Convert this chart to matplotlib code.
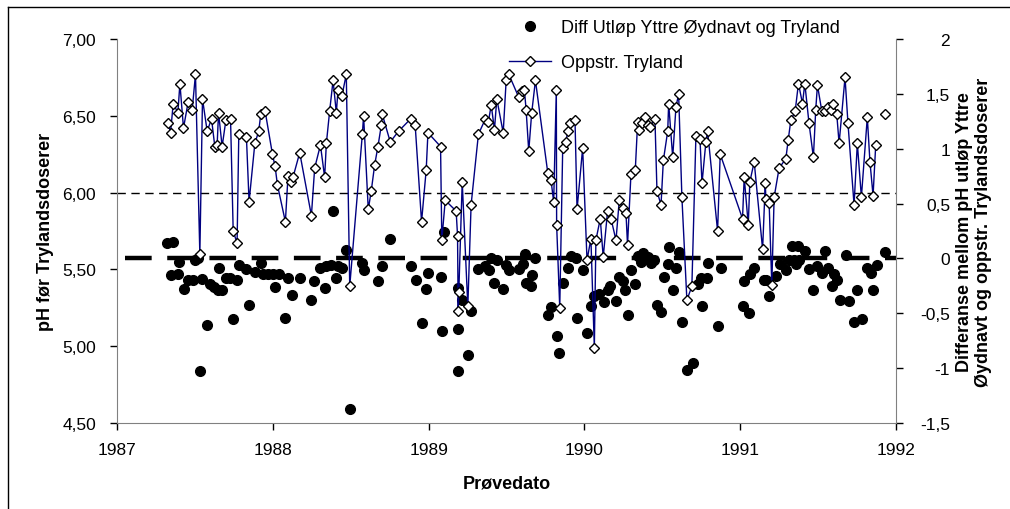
import matplotlib
matplotlib.use("Agg")
import matplotlib.pyplot as plt
from matplotlib.lines import Line2D
from matplotlib.ticker import FuncFormatter, MultipleLocator
import numpy as np

plt.rcParams["font.family"] = ["Liberation Sans", "DejaVu Sans"]

# Oppstr. Tryland (pH, left axis)
tryland_dato = [
    1987.329, 1987.344, 1987.361, 1987.391, 1987.404, 1987.427, 1987.457, 1987.483,
    1987.504, 1987.532, 1987.549, 1987.579, 1987.607, 1987.628, 1987.643, 1987.652,
    1987.675, 1987.699, 1987.729, 1987.746, 1987.771, 1987.782, 1987.831, 1987.848,
    1987.885, 1987.910, 1987.923, 1987.951, 1987.998, 1988.015, 1988.030,
    1988.081, 1988.098, 1988.120, 1988.130, 1988.173, 1988.248, 1988.269, 1988.306,
    1988.333, 1988.344, 1988.365, 1988.387, 1988.408, 1988.419, 1988.444, 1988.472,
    1988.494, 1988.575, 1988.583, 1988.613, 1988.632, 1988.654, 1988.675, 1988.697,
    1988.703, 1988.754, 1988.808,
    1988.885, 1988.914, 1988.955, 1988.985, 1988.996, 1989.077, 1989.085, 1989.107,
    1989.177, 1989.186, 1989.190, 1989.194, 1989.216, 1989.252, 1989.273, 1989.320,
    1989.365, 1989.384, 1989.402, 1989.423, 1989.438, 1989.479, 1989.498, 1989.515,
    1989.579, 1989.600, 1989.615, 1989.626, 1989.643,
    1989.662, 1989.686, 1989.765, 1989.786, 1989.803, 1989.820, 1989.822, 1989.842,
    1989.861, 1989.882, 1989.893, 1989.910, 1989.940, 1989.953, 1989.989, 1990.017,
    1990.042, 1990.064, 1990.074, 1990.102, 1990.121, 1990.149, 1990.171, 1990.203,
    1990.224, 1990.245, 1990.267, 1990.277, 1990.299, 1990.327, 1990.342, 1990.352,
    1990.367, 1990.389, 1990.410, 1990.423,
    1990.453, 1990.466, 1990.492, 1990.507, 1990.535, 1990.541, 1990.567, 1990.588,
    1990.605, 1990.626, 1990.658, 1990.690, 1990.716, 1990.742, 1990.755, 1990.780,
    1990.791, 1990.855, 1990.872, 1991.015, 1991.026, 1991.052, 1991.062, 1991.090,
    1991.144, 1991.161, 1991.165, 1991.186, 1991.203, 1991.218, 1991.250,
    1991.293, 1991.308, 1991.325, 1991.353, 1991.374, 1991.400, 1991.415, 1991.442,
    1991.470, 1991.485, 1991.496, 1991.524, 1991.543, 1991.566, 1991.581, 1991.598,
    1991.620, 1991.635, 1991.673, 1991.692, 1991.731, 1991.752, 1991.778, 1991.816,
    1991.833, 1991.853, 1991.870, 1991.900, 1991.927,
]
tryland_ph = [
    6.45, 6.39, 6.58, 6.52, 6.71, 6.42, 6.59, 6.54,
    6.77, 5.60, 6.61, 6.40, 6.48, 6.30, 6.31, 6.52,
    6.30, 6.47, 6.48, 5.75, 5.67, 6.38, 6.36, 5.94,
    6.32, 6.40, 6.51, 6.53, 6.25, 6.17, 6.05,
    5.81, 6.11, 6.07, 6.10, 6.26, 5.85, 6.16, 6.31,
    6.10, 6.32, 6.53, 6.73, 6.52, 6.67, 6.63, 6.77,
    5.39, 6.38, 6.50, 5.89, 6.01, 6.18, 6.30, 6.44,
    6.51, 6.33, 6.40,
    6.48, 6.44, 5.81, 6.15, 6.39, 6.30, 5.69, 5.95,
    5.88, 5.72, 5.23, 5.35, 6.07, 5.26, 5.92, 6.38,
    6.48, 6.46, 6.57, 6.41, 6.61, 6.39, 6.73, 6.77,
    6.62, 6.66, 6.67, 6.54, 6.27,
    6.52, 6.73, 6.13, 6.08, 5.94, 6.67, 5.79, 5.25,
    6.29, 6.33, 6.40, 6.45, 6.47, 5.89, 6.29, 5.56,
    5.70, 4.99, 5.69, 5.83, 5.58, 5.88, 5.83, 5.69,
    5.95, 5.90, 5.87, 5.66, 6.12, 6.15, 6.46, 6.41,
    6.45, 6.49, 6.44, 6.43,
    6.48, 6.01, 5.92, 6.21, 6.40, 6.58, 6.23, 6.56,
    6.64, 5.97, 5.30, 5.39, 6.37, 6.35, 6.06, 6.33,
    6.40, 5.75, 6.25, 5.83, 6.10, 5.79, 6.07, 6.20,
    5.63, 6.06, 5.96, 5.93, 5.40, 5.97, 6.16,
    6.22, 6.34, 6.47, 6.53, 6.71, 6.58, 6.71, 6.45,
    6.23, 6.54, 6.70, 6.53, 6.53, 6.56, 6.54, 6.58,
    6.51, 6.32, 6.75, 6.45, 5.92, 6.32, 5.97, 6.49,
    6.20, 5.98, 6.31, np.nan, 6.51,
]

# Diff Utløp Yttre Øydnavt og Tryland (right axis)
diff_dato = [
    1987.322, 1987.361, 1987.344, 1987.393, 1987.399, 1987.429, 1987.457, 1987.485,
    1987.504, 1987.521, 1987.532, 1987.549, 1987.575, 1987.600, 1987.622, 1987.649,
    1987.675, 1987.654, 1987.699, 1987.724, 1987.746, 1987.773, 1987.784, 1987.831,
    1987.848, 1987.885, 1987.923, 1987.938, 1987.970, 1988.002, 1988.017, 1988.038,
    1988.081, 1988.098, 1988.124, 1988.173, 1988.248, 1988.265, 1988.301, 1988.333,
    1988.344, 1988.372, 1988.387, 1988.408, 1988.419, 1988.447, 1988.468, 1988.494,
    1988.575, 1988.583, 1988.675, 1988.701, 1988.750,
    1988.885, 1988.921, 1988.957, 1988.985, 1988.996, 1989.077, 1989.088, 1989.102,
    1989.188, 1989.188, 1989.188, 1989.216, 1989.252, 1989.273, 1989.320, 1989.365,
    1989.387, 1989.402, 1989.423, 1989.438, 1989.476, 1989.498, 1989.519, 1989.583,
    1989.605,
    1989.621, 1989.626, 1989.658, 1989.664, 1989.683, 1989.765, 1989.786, 1989.822,
    1989.839, 1989.861, 1989.893, 1989.914, 1989.946, 1989.950, 1989.989, 1990.015,
    1990.042, 1990.064, 1990.096, 1990.128, 1990.149, 1990.164, 1990.203, 1990.224,
    1990.245, 1990.262, 1990.277, 1990.299, 1990.324, 1990.342, 1990.363, 1990.378,
    1990.406, 1990.427,
    1990.449, 1990.466, 1990.492, 1990.513, 1990.535, 1990.541, 1990.567, 1990.588,
    1990.605, 1990.624, 1990.658, 1990.699, 1990.727, 1990.748, 1990.755, 1990.785,
    1990.795, 1990.859, 1990.876, 1991.015, 1991.026, 1991.054, 1991.062, 1991.090,
    1991.154, 1991.169, 1991.182, 1991.229,
    1991.256, 1991.297, 1991.314, 1991.331, 1991.346, 1991.357, 1991.374, 1991.378,
    1991.417, 1991.442, 1991.470, 1991.496, 1991.524, 1991.545, 1991.566, 1991.588,
    1991.603, 1991.624, 1991.639, 1991.677, 1991.699, 1991.731, 1991.752, 1991.780,
    1991.816, 1991.838, 1991.853, 1991.876, 1991.930,
]
diff_verdi = [
    0.14, 0.15, -0.15, -0.14, -0.03, -0.28, -0.20, -0.20,
    -0.01, 0.00, -1.03, -0.19, -0.61, -0.23, -0.26, -0.29,
    -0.29, -0.09, -0.18, -0.18, -0.55, -0.20, -0.06, -0.10,
    -0.42, -0.12, -0.04, -0.14, -0.14, -0.14, -0.26, -0.14,
    -0.54, -0.18, -0.33, -0.18, -0.38, -0.21, -0.09, -0.27,
    -0.07, -0.06, 0.43, -0.18, -0.07, -0.09, 0.08, -1.37,
    -0.04, -0.11, -0.21, -0.07, 0.18,
    -0.07, -0.20, -0.59, -0.28, -0.13, -0.17, -0.66, 0.24,
    -0.27, -0.64, -1.03, -0.38, -0.88, -0.48, -0.10, -0.07,
    -0.11, 0.00, -0.22, -0.01, -0.28, -0.06, -0.11, -0.10,
    -0.05,
    0.04, -0.22, -0.25, -0.15, 0.00, -0.52, -0.44, -0.71,
    -0.86, -0.22, -0.09, 0.02, 0.00, -0.54, -0.11, -0.68,
    -0.43, -0.34, -0.32, -0.40, -0.29, -0.25, -0.39, -0.17,
    -0.21, -0.29, -0.52, -0.11, -0.23, 0.02, -0.03, 0.05,
    0.01, -0.04,
    -0.01, -0.42, -0.49, -0.17, -0.05, 0.10, -0.29, -0.09,
    0.06, -0.58, -1.02, -0.95, -0.23, -0.18, -0.43, -0.18,
    -0.04, -0.62, -0.09, -0.43, -0.21, -0.50, -0.14, -0.09,
    -0.20, -0.20, -0.34, -0.16,
    -0.05, -0.11, -0.01, 0.11, -0.01, -0.05, 0.11, -0.01,
    0.07, -0.10, -0.29, -0.07, -0.13, 0.07, -0.09, -0.25,
    -0.14, -0.20, -0.38, 0.03, -0.39, -0.58, -0.29, -0.55,
    -0.09, -0.13, -0.29, -0.06, 0.06,
]

fig = plt.figure(figsize=(10.1, 5.1), dpi=100)
ax = fig.add_axes([0.1158, 0.1686, 0.7713, 0.753])
ax2 = ax.twinx()

# blue line should sit above the dots
ax.set_zorder(ax2.get_zorder() + 1)
ax.patch.set_visible(False)

ax.axhline(6.0, color="black", lw=1, ls=(0, (6, 4)), zorder=1)
ax2.axhline(0.0, xmin=0.01, color="black", lw=3.2, ls=(0, (6, 3.5)), zorder=1)

ax2.plot(diff_dato, diff_verdi, "o", color="black", ms=7, zorder=2)
ax.plot(tryland_dato, tryland_ph, "-", color="#000080", lw=1.0,
        marker="D", ms=5.5, mfc="white", mec="black", mew=1.0, zorder=3)

ax.set_xlim(1987, 1992)
ax.set_ylim(4.5, 7.0)
ax2.set_ylim(-1.5, 2.0)

ax.yaxis.set_major_locator(MultipleLocator(0.5))
ax2.yaxis.set_major_locator(MultipleLocator(0.5))
ax.xaxis.set_major_locator(MultipleLocator(1))
ax.xaxis.set_major_formatter(FuncFormatter(lambda v, p: f"{int(round(v))}"))
ax.yaxis.set_major_formatter(FuncFormatter(lambda v, p: f"{v:.2f}".replace(".", ",")))
ax2.yaxis.set_major_formatter(
    FuncFormatter(lambda v, p: (f"{v:g}").replace(".", ",")))

for a in (ax, ax2):
    a.spines["top"].set_visible(False)
    a.tick_params(labelsize=12.5, direction="out", length=5, width=1, colors="black")
ax.spines["right"].set_visible(False)
ax2.spines["left"].set_visible(False)
ax2.spines["bottom"].set_visible(False)
for s in ("left", "bottom"):
    ax.spines[s].set_color("#808080")
ax2.spines["right"].set_color("#808080")

ax.tick_params(axis="y", pad=10)
ax.tick_params(axis="x", pad=9)
# right axis labels are right-aligned in the original
ax2.tick_params(axis="y", pad=34)
for lab in ax2.get_yticklabels():
    lab.set_horizontalalignment("right")

ax.set_ylabel("pH før Trylandsdoserer", fontsize=13, fontweight="bold", labelpad=6)
ax.set_xlabel("Prøvedato", fontsize=13, fontweight="bold", labelpad=12)
ax2.set_ylabel("Differanse mellom pH utløp Yttre\nØydnavt og oppstr. Trylandsdoserer",
               fontsize=13, fontweight="bold", rotation=90, labelpad=4,
               linespacing=1.15)

handles = [
    Line2D([], [], ls="none", marker="o", color="black", ms=7),
    Line2D([], [], color="#000080", lw=1.0, marker="D", ms=5.5, mfc="white", mec="black"),
]
fig.legend(handles, ["Diff Utløp Yttre Øydnavt og Tryland", "Oppstr. Tryland"],
           loc="upper left", bbox_to_anchor=(0.488, 0.993), frameon=False,
           fontsize=13, handlelength=2.3, handletextpad=0.6, labelspacing=1.0)

# chart area border (left and top visible)
fig.add_artist(Line2D([0.008, 0.008], [0.0, 0.984], color="black", lw=1,
                      transform=fig.transFigure))
fig.add_artist(Line2D([0.008, 1.0], [0.984, 0.984], color="black", lw=1,
                      transform=fig.transFigure))

fig.savefig("out.png", dpi=100)
